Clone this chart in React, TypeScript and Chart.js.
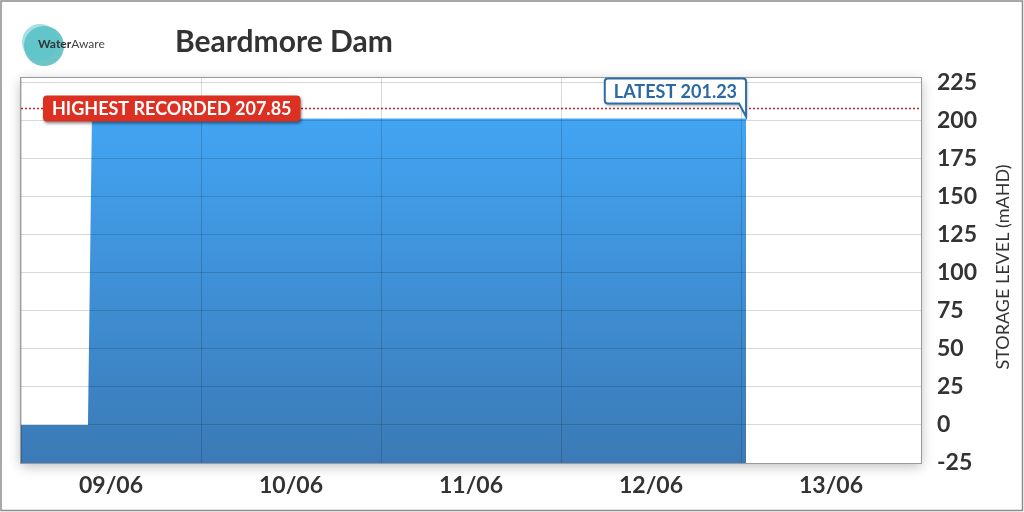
import React, { useEffect, useRef } from 'react';
import { Chart, registerables } from 'chart.js';

Chart.register(...registerables);

const xLabels = ['09/06', '10/06', '11/06', '12/06', '13/06'];
const levelDays = [0, 0.372, 0.394, 1.0, 2.0, 3.0, 4.028];
const levelValues = [0, 0, 201.0, 201.1, 201.2, 201.2, 201.23];
const yTicks = [-25, 0, 25, 50, 75, 100, 125, 150, 175, 200, 225];
const highestRecorded = 207.85;
const latestValue = 201.23;
const chartTitle = 'Beardmore Dam';
const axisTitle = 'STORAGE LEVEL (mAHD)';

const FONT = 'Lato, "Open Sans", sans-serif';

const decorPlugin = {
  id: 'decor',
  beforeDraw(chart: any) {
    const { ctx, chartArea: a, width, height } = chart;
    ctx.save();
    ctx.fillStyle = '#ffffff';
    ctx.fillRect(0, 0, width, height);
    ctx.strokeStyle = '#8c8c8c';
    ctx.lineWidth = 1.5;
    ctx.strokeRect(1, 1, width - 2.5, height - 2.5);

    // logo
    ctx.fillStyle = 'rgba(70,182,188,0.8)';
    ctx.beginPath();
    ctx.arc(44, 46, 20, 0, Math.PI * 2);
    ctx.fill();
    ctx.fillStyle = 'rgba(90,196,200,0.55)';
    ctx.beginPath();
    ctx.arc(40, 42, 18, 0, Math.PI * 2);
    ctx.fill();
    ctx.textBaseline = 'middle';
    ctx.textAlign = 'left';
    ctx.fillStyle = '#333';
    ctx.font = `bold 12px ${FONT}`;
    ctx.fillText('Water', 38, 44);
    const w1 = ctx.measureText('Water').width;
    ctx.font = `12px ${FONT}`;
    ctx.fillStyle = '#444';
    ctx.fillText('Aware', 38 + w1, 44);

    // title
    ctx.font = `bold 30px ${FONT}`;
    ctx.fillStyle = '#333';
    ctx.textBaseline = 'alphabetic';
    ctx.fillText(chartTitle, 175, 52);

    // plot area shadow
    ctx.shadowColor = 'rgba(0,0,0,0.28)';
    ctx.shadowBlur = 12;
    ctx.shadowOffsetY = 3;
    ctx.fillStyle = '#ffffff';
    ctx.fillRect(a.left, a.top, a.right - a.left, a.bottom - a.top);
    ctx.restore();
  },
  afterDraw(chart: any) {
    const { ctx, chartArea: a, scales } = chart;
    const y = scales.y;
    const xd = scales.xd;
    ctx.save();
    // plot border
    ctx.strokeStyle = '#9a9a9a';
    ctx.lineWidth = 1;
    ctx.strokeRect(a.left - 0.5, a.top - 0.5, a.right - a.left + 1, a.bottom - a.top + 1);

    // highest recorded dotted line
    const hy = Math.round(y.getPixelForValue(highestRecorded)) + 0.5;
    ctx.strokeStyle = '#b8262a';
    ctx.lineWidth = 1.5;
    ctx.setLineDash([2, 2]);
    ctx.beginPath();
    ctx.moveTo(a.left, hy);
    ctx.lineTo(a.right, hy);
    ctx.stroke();
    ctx.setLineDash([]);

    // highest label
    const hText = `HIGHEST RECORDED ${highestRecorded.toFixed(2)}`;
    ctx.font = `bold 18px ${FONT}`;
    const hw = ctx.measureText(hText).width + 18;
    const hx = a.left + 22;
    const hh = 26;
    ctx.save();
    ctx.shadowColor = 'rgba(0,0,0,0.45)';
    ctx.shadowBlur = 3;
    ctx.shadowOffsetX = 1;
    ctx.shadowOffsetY = 2;
    ctx.fillStyle = '#dc3023';
    ctx.beginPath();
    ctx.roundRect(hx, hy - hh / 2, hw, hh, 4);
    ctx.fill();
    ctx.restore();
    ctx.fillStyle = '#ffffff';
    ctx.textAlign = 'center';
    ctx.textBaseline = 'middle';
    ctx.fillText(hText, hx + hw / 2, hy + 1);

    // latest label
    const lx = xd.getPixelForValue(levelDays[levelDays.length - 1]);
    const ly = y.getPixelForValue(latestValue);
    const lText = `LATEST ${latestValue.toFixed(2)}`;
    const lw = ctx.measureText(lText).width + 18;
    const right = lx;
    const left = right - lw;
    const bottom = ly - 15;
    const top = bottom - 25;
    const r = 3;
    ctx.save();
    ctx.shadowColor = 'rgba(0,0,0,0.35)';
    ctx.shadowBlur = 3;
    ctx.shadowOffsetX = 1;
    ctx.shadowOffsetY = 2;
    ctx.beginPath();
    ctx.moveTo(left + r, top);
    ctx.lineTo(right - r, top);
    ctx.quadraticCurveTo(right, top, right, top + r);
    ctx.lineTo(right, ly - 2);
    ctx.lineTo(right - 7, bottom);
    ctx.lineTo(left + r, bottom);
    ctx.quadraticCurveTo(left, bottom, left, bottom - r);
    ctx.lineTo(left, top + r);
    ctx.quadraticCurveTo(left, top, left + r, top);
    ctx.closePath();
    ctx.fillStyle = '#ffffff';
    ctx.fill();
    ctx.restore();
    ctx.strokeStyle = '#2e6da4';
    ctx.lineWidth = 2;
    ctx.stroke();
    ctx.fillStyle = '#2b69a3';
    ctx.fillText(lText, (left + right) / 2, (top + bottom) / 2 + 1);

    // axis title
    ctx.translate(1003, 267);
    ctx.rotate(-Math.PI / 2);
    ctx.font = `18px ${FONT}`;
    ctx.fillStyle = '#333';
    ctx.fillText(axisTitle, 0, 0);
    ctx.restore();
  },
};

export default function App() {
  const canvasRef = useRef<HTMLCanvasElement | null>(null);

  useEffect(() => {
    document.body.style.margin = '0';
    const canvas = canvasRef.current!;
    const chart = new Chart(canvas, {
      type: 'line',
      data: {
        labels: xLabels,
        datasets: [
          {
            data: levelDays.map((d, i) => ({ x: d, y: levelValues[i] })),
            xAxisID: 'xd',
            yAxisID: 'y',
            fill: 'start',
            borderColor: 'rgba(0,0,0,0)',
            borderWidth: 1,
            pointRadius: 0,
            tension: 0,
            backgroundColor: (c: any) => {
              const ch = c.chart;
              const area = ch.chartArea;
              if (!area) return '#3f92d8';
              const g = ch.ctx.createLinearGradient(0, area.top, 0, area.bottom);
              g.addColorStop(0, '#43a9fa');
              g.addColorStop(1, '#3b7ab6');
              return g;
            },
          },
        ],
      },
      options: {
        responsive: false,
        animation: false,
        events: [],
        layout: { padding: { top: 78, left: 21, right: 0, bottom: 0 } },
        plugins: { legend: { display: false }, tooltip: { enabled: false } },
        scales: {
          x: {
            type: 'category',
            position: 'bottom',
            offset: true,
            grid: { offset: true, drawTicks: false, color: 'rgba(0,0,0,0.15)', z: 1 },
            border: { display: false },
            ticks: { padding: 9, color: '#333', font: { family: FONT, size: 23, weight: 'bold' } },
            afterFit: (s: any) => { s.height = 49; },
          },
          xd: {
            type: 'linear',
            display: false,
            min: 0,
            max: 5,
          },
          y: {
            type: 'linear',
            position: 'right',
            min: -25,
            max: 227.8,
            afterBuildTicks: (s: any) => { s.ticks = yTicks.map((v) => ({ value: v })); },
            grid: { drawTicks: false, color: 'rgba(0,0,0,0.15)', z: 1 },
            border: { display: false },
            ticks: { padding: 16, color: '#333', font: { family: FONT, size: 23, weight: 'bold' } },
            afterFit: (s: any) => { s.width = 103; },
          },
        },
      } as any,
      plugins: [decorPlugin],
    });
    return () => chart.destroy();
  }, []);

  return (
    <div style={{ position: 'absolute', left: 0, top: 0, width: 1024, height: 512 }}>
      <canvas ref={canvasRef} width={1024} height={512} style={{ display: 'block' }} />
    </div>
  );
}
